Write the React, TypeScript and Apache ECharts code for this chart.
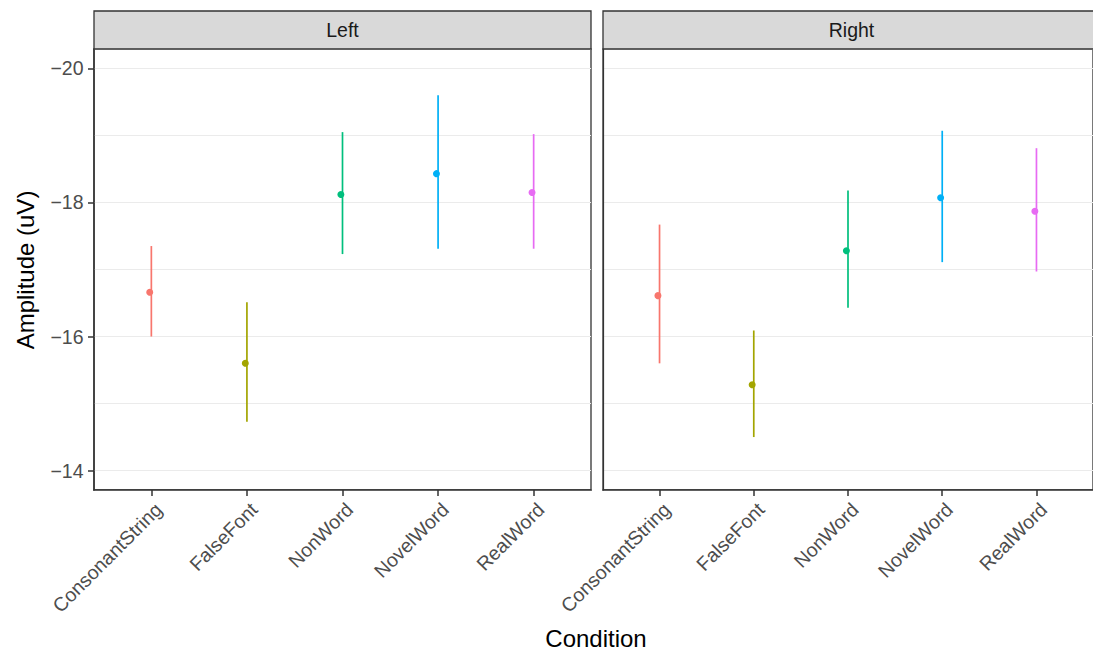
import React, { useEffect, useRef } from "react";
import * as echarts from "echarts";

const categories = ["ConsonantString", "FalseFont", "NonWord", "NovelWord", "RealWord"];
const panels = ["Left", "Right"];
const colors = ["#F8766D", "#A3A500", "#00BF7D", "#00B0F6", "#E76BF3"];

const leftMean = [-16.66, -15.6, -18.12, -18.43, -18.15];
const leftTop = [-17.35, -16.51, -19.05, -19.6, -19.02];
const leftBottom = [-16.0, -14.73, -17.23, -17.31, -17.31];

const rightMean = [-16.61, -15.28, -17.28, -18.07, -17.87];
const rightTop = [-17.67, -16.09, -18.18, -19.07, -18.81];
const rightBottom = [-15.6, -14.5, -16.43, -17.11, -16.97];

const yTicks = [-20, -18, -16, -14];
const xTickPositions = [1, 2, 3, 4, 5];
const yMin = -20.29;
const yMax = -13.71;
const pointDodge = -0.017;

const FONT = "'Liberation Sans', Arial, Helvetica, sans-serif";

const fmtNum = (v: number) => (v < 0 ? "\u2212" + Math.abs(v) : String(v));

export default function App() {
  const ref = useRef<HTMLDivElement>(null);

  useEffect(() => {
    if (!ref.current) return;
    const chart = echarts.init(ref.current, undefined, { renderer: "svg" });

    const grids = [
      { left: 94, top: 49, width: 497, height: 441 },
      { left: 603, top: 49, width: 497, height: 441 },
    ];

    const means = [leftMean, rightMean];
    const tops = [leftTop, rightTop];
    const bottoms = [leftBottom, rightBottom];

    const xAxes = grids.map((g, gi) => ({
      type: "value",
      gridIndex: gi,
      position: "bottom",
      min: 0.4,
      max: 5.6,
      splitLine: { show: false },
      axisLine: { show: true, onZero: false, lineStyle: { color: "#333333", width: 1.5 } },
      axisTick: {
        show: true,
        customValues: xTickPositions,
        length: 6,
        lineStyle: { color: "#333333", width: 1.5 },
      },
      axisLabel: {
        show: true,
        customValues: xTickPositions,
        rotate: 45,
        margin: 9,
        align: "right",
        verticalAlign: "top",
        color: "#4D4D4D",
        fontSize: 19.5,
        fontFamily: FONT,
        formatter: (v: number) => categories[Math.round(v) - 1] ?? "",
      },
    }));

    const yAxes: any[] = [];
    grids.forEach((g, gi) => {
      yAxes.push({
        type: "value",
        gridIndex: gi,
        position: "left",
        inverse: true,
        min: yMin,
        max: yMax,
        splitNumber: 6,
        axisLine: { show: false },
        axisTick: { show: false },
        axisLabel: { show: false },
        splitLine: { show: true, lineStyle: { color: "#EBEBEB", width: 1 } },
      });
    });
    grids.forEach((g, gi) => {
      yAxes.push({
        type: "value",
        gridIndex: gi,
        position: "left",
        inverse: true,
        min: yMin,
        max: yMax,
        axisLine: { show: true, onZero: false, lineStyle: { color: "#333333", width: gi === 0 ? 1.5 : 1.2 } },
        axisTick: {
          show: gi === 0,
          customValues: yTicks,
          length: 6,
          lineStyle: { color: "#333333", width: 1.5 },
        },
        axisLabel: {
          show: gi === 0,
          customValues: yTicks,
          margin: 10.5,
          color: "#4D4D4D",
          fontSize: 19.5,
          fontFamily: FONT,
          formatter: (v: number) => fmtNum(v),
        },
        splitLine: { show: false },
      });
    });

    const series: any[] = [];
    panels.forEach((p, pi) => {
      series.push({
        type: "custom",
        name: p + " error",
        xAxisIndex: pi,
        yAxisIndex: pi,
        encode: { x: 0, y: [1, 2] },
        data: categories.map((c, i) => [i + 1, tops[pi][i], bottoms[pi][i], i]),
        renderItem: (params: any, api: any) => {
          const a = api.coord([api.value(0), api.value(1)]);
          const b = api.coord([api.value(0), api.value(2)]);
          return {
            type: "line",
            shape: { x1: a[0], y1: a[1], x2: b[0], y2: b[1] },
            style: { stroke: colors[api.value(3)], lineWidth: 1.7 },
          };
        },
      });
      series.push({
        type: "scatter",
        name: p,
        xAxisIndex: pi,
        yAxisIndex: pi,
        symbol: "circle",
        symbolSize: 7,
        data: categories.map((c, i) => ({
          value: [i + 1 + pointDodge, means[pi][i]],
          itemStyle: { color: colors[i], opacity: 1 },
        })),
      });
    });

    const graphic: any[] = [];
    grids.forEach((g, gi) => {
      graphic.push({
        type: "rect",
        shape: { x: g.left, y: 11, width: g.width, height: 38 },
        style: { fill: "#D9D9D9", stroke: "#333333", lineWidth: 1.3 },
        z: 10,
      });
      graphic.push({
        type: "text",
        x: g.left + g.width / 2,
        y: 30,
        style: {
          text: panels[gi],
          fill: "#1A1A1A",
          fontSize: 19.5,
          fontFamily: FONT,
          textAlign: "center",
          textVerticalAlign: "middle",
        },
        z: 11,
      });
    });
    graphic.push({
      type: "text",
      x: 25,
      y: 270,
      rotation: Math.PI / 2,
      style: {
        text: "Amplitude (uV)",
        fill: "#000000",
        fontSize: 24,
        fontFamily: FONT,
        textAlign: "center",
        textVerticalAlign: "middle",
      },
    });
    graphic.push({
      type: "text",
      x: 596,
      y: 638,
      style: {
        text: "Condition",
        fill: "#000000",
        fontSize: 24,
        fontFamily: FONT,
        textAlign: "center",
        textVerticalAlign: "middle",
      },
    });

    chart.setOption({
      animation: false,
      backgroundColor: "#FFFFFF",
      grid: grids.map((g) => ({
        ...g,
        show: true,
        borderColor: "#333333",
        borderWidth: 1.3,
        backgroundColor: "transparent",
        containLabel: false,
      })),
      xAxis: xAxes,
      yAxis: yAxes,
      series,
      graphic,
    });

    return () => chart.dispose();
  }, []);

  return (
    <div
      ref={ref}
      style={{ position: "absolute", left: 0, top: 0, width: 1093, height: 650, overflow: "hidden" }}
    />
  );
}
